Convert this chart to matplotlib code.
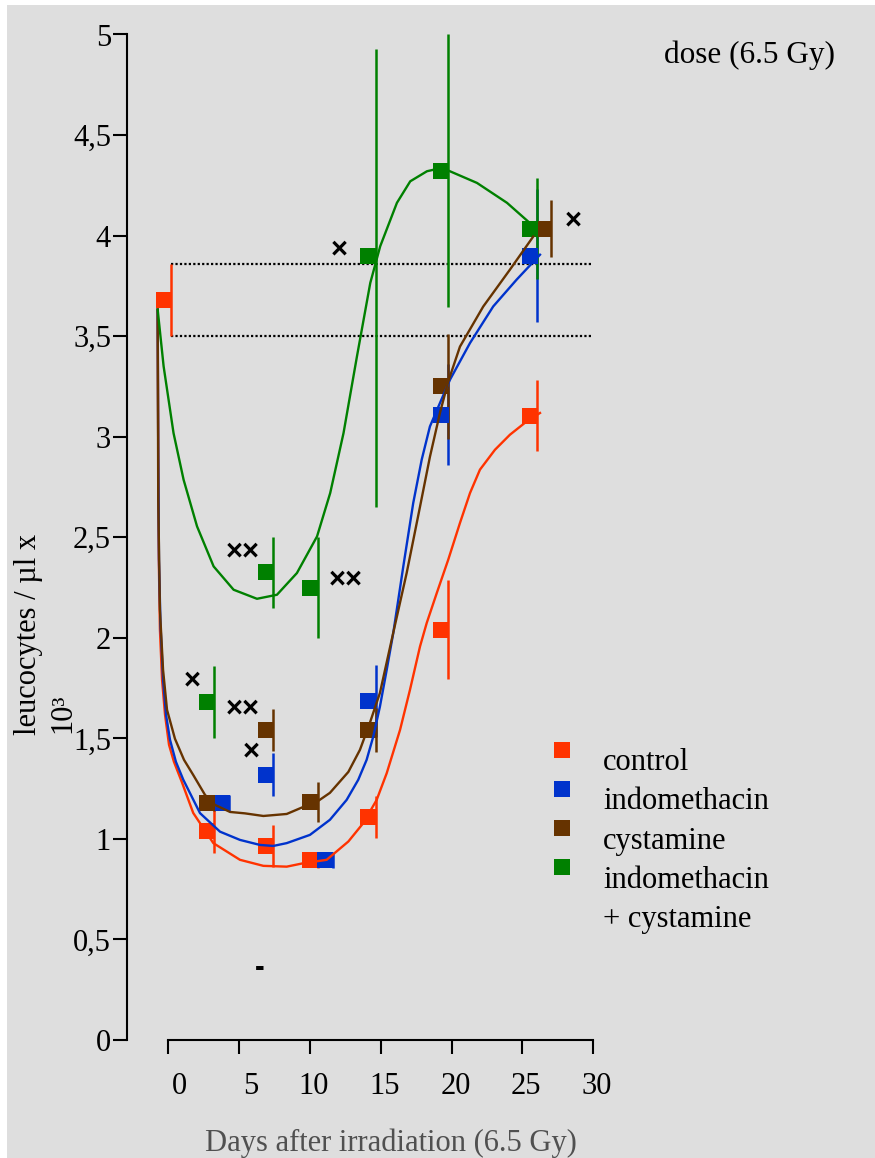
import matplotlib
matplotlib.use('Agg')
import matplotlib.pyplot as plt
from matplotlib import rcParams
from matplotlib.lines import Line2D
from matplotlib.patches import Rectangle
from matplotlib.transforms import ScaledTranslation


# measured points (days after irradiation, leucocytes / ul x 10^3)
control_x = [0.2, 3.25, 7.4, 10.55, 14.65, 19.75, 26.05]
control_y = [3.68, 1.04, 0.965, 0.895, 1.11, 2.04, 3.105]
control_err = [0.18, 0.11, 0.105, 0.04, 0.105, 0.245, 0.175]

indo_x = [4.3, 7.4, 11.6, 14.65, 19.75, 26.05]
indo_y = [1.18, 1.32, 0.895, 1.685, 3.11, 3.90]
indo_err = [0.04, 0.105, 0.04, 0.18, 0.25, 0.33]

cyst_x = [3.25, 7.4, 10.55, 14.65, 19.75, 27.05]
cyst_y = [1.18, 1.54, 1.185, 1.54, 3.25, 4.035]
cyst_err = [0.04, 0.105, 0.10, 0.11, 0.26, 0.14]

combo_x = [3.25, 7.4, 10.55, 14.65, 19.75, 26.05]
combo_y = [1.68, 2.325, 2.25, 3.90, 4.32, 4.035]
combo_err_lo = [0.18, 0.175, 0.25, 1.25, 0.675, 0.25]
combo_err_hi = [0.18, 0.175, 0.25, 1.03, 0.68, 0.25]

# fitted curves
control_fit_x = [-0.75, -0.71, -0.67, -0.59, -0.44, -0.23, 0.05, 0.40, 0.95, 1.76,
                 3.18, 5.06, 6.71, 8.36, 9.53, 11.18, 12.71, 13.76, 14.71, 15.42,
                 16.36, 17.06, 17.77, 18.24, 18.95, 19.76, 20.59, 21.30, 22.00,
                 23.06, 24.12, 25.30, 26.24]
control_fit_y = [3.632, 2.935, 2.388, 2.040, 1.791, 1.617, 1.468, 1.383, 1.284, 1.129,
                 0.979, 0.896, 0.866, 0.862, 0.879, 0.896, 0.987, 1.078, 1.194, 1.327,
                 1.542, 1.741, 1.957, 2.073, 2.222, 2.388, 2.571, 2.720, 2.836,
                 2.935, 3.010, 3.076, 3.118]

indo_fit_x = [-0.75, -0.71, -0.66, -0.55, -0.37, -0.16, 0.12, 0.54, 1.06, 2.24,
              3.65, 5.06, 6.47, 7.41, 8.36, 10.0, 11.41, 12.59, 13.41, 14.00,
              14.47, 14.94, 15.42, 15.88, 16.59, 17.29, 17.89, 18.47, 19.18,
              19.89, 21.30, 22.94, 24.59, 26.24]
indo_fit_y = [3.632, 2.935, 2.388, 2.065, 1.791, 1.617, 1.493, 1.383, 1.294, 1.128,
              1.036, 0.995, 0.970, 0.965, 0.979, 1.020, 1.095, 1.194, 1.294, 1.393,
              1.509, 1.658, 1.841, 2.023, 2.355, 2.670, 2.886, 3.051, 3.168,
              3.284, 3.466, 3.648, 3.781, 3.905]

cyst_fit_x = [-0.75, -0.71, -0.59, -0.37, -0.09, 0.47, 1.11, 1.76, 2.59, 3.30,
              4.36, 5.41, 6.71, 8.36, 9.53, 10.48, 11.41, 12.71, 13.53, 14.23,
              14.94, 15.88, 16.83, 17.77, 18.47, 19.18, 19.76, 20.59, 22.23,
              24.12, 25.76]
cyst_fit_y = [3.632, 2.687, 2.139, 1.841, 1.642, 1.498, 1.393, 1.318, 1.219, 1.169,
              1.134, 1.127, 1.114, 1.124, 1.159, 1.184, 1.229, 1.333, 1.443, 1.577,
              1.726, 2.025, 2.323, 2.652, 2.900, 3.119, 3.274, 3.448, 3.647,
              3.831, 3.995]

combo_fit_x = [-0.75, -0.33, 0.37, 1.08, 2.03, 3.20, 4.61, 6.26, 7.67, 9.08,
               10.50, 11.43, 12.37, 13.32, 14.26, 14.96, 16.14, 17.08, 18.26,
               19.32, 21.79, 23.91, 25.79]
combo_fit_y = [3.632, 3.35, 3.018, 2.786, 2.554, 2.355, 2.239, 2.194, 2.214, 2.322,
               2.504, 2.720, 3.018, 3.400, 3.765, 3.947, 4.163, 4.270, 4.320,
               4.337, 4.262, 4.163, 4.046]

# significance marks
sig_text = ['×', '×', '××', '××', '×', '××', '×', '-']
sig_x = [12.05, 28.56, 5.27, 12.54, 1.67, 5.27, 5.84, 6.47]
sig_y = [3.93, 4.075, 2.428, 2.289, 1.786, 1.647, 1.433, 0.36]

x_ticks = [0, 5, 10, 15, 20, 25, 30]
y_ticks = [0, 0.5, 1, 1.5, 2, 2.5, 3, 3.5, 4, 4.5, 5]
y_tick_labels = ['0', '0,5', '1', '1,5', '2', '2,5', '3', '3,5', '4', '4,5', '5']

legend_labels = ['control', 'indomethacin', 'cystamine', 'indomethacin\n+ cystamine']


def get_color_dict():
    COLOR_DICT = {
        'control'     : '#FF3300',
        'indo'        : '#0033CC',
        'cyst'        : '#663300',
        'combo'       : '#008000',
        'background'  : '#DEDEDE',
        'xlabel'      : '#505050',
    }
    return COLOR_DICT


def setup():
    rcParams['font.family'] = 'serif'
    rcParams['font.serif'] = ['Liberation Serif', 'DejaVu Serif']
    rcParams['axes.linewidth'] = 1.5
    rcParams['xtick.labelsize'] = 22
    rcParams['ytick.labelsize'] = 22
    rcParams['xtick.major.size'] = 10
    rcParams['ytick.major.size'] = 10
    rcParams['xtick.major.width'] = 1.5
    rcParams['ytick.major.width'] = 1.5
    rcParams['xtick.major.pad'] = 13
    rcParams['ytick.major.pad'] = 1.5


def px_x(px):
    return px / 875.0


def px_y(py):
    return 1.0 - py / 1158.0


def main():
    setup()
    c = get_color_dict()

    fig = plt.figure(figsize=(8.75, 11.58), dpi=100)
    fig.patch.set_facecolor('white')
    fig.add_artist(Rectangle((px_x(7), 0), 1 - px_x(7), px_y(5), transform=fig.transFigure,
                             facecolor=c['background'], edgecolor='none', zorder=-10))

    ax = fig.add_axes([px_x(127), px_y(1040), px_x(860) - px_x(127), px_y(34.5) - px_y(1040)])
    ax.set_facecolor('none')
    ax.set_xlim(-2.915, 48.83)
    ax.set_ylim(0, 5)

    for side in ['top', 'right']:
        ax.spines[side].set_visible(False)
    ax.spines['left'].set_bounds(0, 5)
    ax.spines['bottom'].set_bounds(0, 30)

    ax.set_xticks(x_ticks)
    ax.set_xticklabels([str(t) for t in x_ticks])
    ax.set_yticks(y_ticks)
    ax.set_yticklabels(y_tick_labels)
    shift = ScaledTranslation(0.19, 0, fig.dpi_scale_trans)
    for lbl in ax.get_xticklabels():
        lbl.set_horizontalalignment('right')
        lbl.set_transform(lbl.get_transform() + shift)

    # normal range from control day 0
    ax.hlines([control_y[0] + control_err[0], control_y[0] - control_err[0]],
              control_x[0], 30, colors='black', linestyles=(0, (1, 1)), lw=1.6, zorder=1)

    marker_shift = ax.transData + ScaledTranslation(-0.075, 0, fig.dpi_scale_trans)
    series = [
        (control_x, control_y, [control_err, control_err], control_fit_x, control_fit_y, c['control']),
        (indo_x, indo_y, [indo_err, indo_err], indo_fit_x, indo_fit_y, c['indo']),
        (cyst_x, cyst_y, [cyst_err, cyst_err], cyst_fit_x, cyst_fit_y, c['cyst']),
        (combo_x, combo_y, [combo_err_lo, combo_err_hi], combo_fit_x, combo_fit_y, c['combo']),
    ]
    for xs, ys, err, fx, fy, col in series:
        ax.errorbar(xs, ys, yerr=err, fmt='none', ecolor=col, elinewidth=1.8,
                    capsize=0, zorder=2, clip_on=False)
        ax.plot(xs, ys, 's', color=col, markersize=11.5, markeredgewidth=0,
                transform=marker_shift, zorder=3, clip_on=False)
        ax.plot(fx, fy, '-', color=col, lw=1.7, zorder=4, clip_on=False)

    for s, x, y in zip(sig_text, sig_x, sig_y):
        ax.text(x, y, s, ha='center', va='center', fontsize=21, fontweight='bold',
                family='Liberation Sans', color='black')

    # legend
    row = 0
    for label, col in zip(legend_labels, [c['control'], c['indo'], c['cyst'], c['combo']]):
        fig.add_artist(Line2D([px_x(561.5)], [px_y(749.5 + row * 39.3)], marker='s',
                              color=col, markersize=11.5, markeredgewidth=0,
                              transform=fig.transFigure))
        for line in label.split('\n'):
            fig.text(px_x(603), px_y(770 + row * 39.3), line, fontsize=22,
                     ha='left', va='baseline')
            row += 1

    fig.text(px_x(664), px_y(63), 'dose (6.5 Gy)', fontsize=22.5, ha='left', va='baseline')
    fig.text(px_x(391), px_y(1151), 'Days after irradiation (6.5 Gy)', fontsize=22,
             ha='center', va='baseline', color=c['xlabel'])
    fig.text(px_x(29), px_y(735), 'leucocytes / µl x', fontsize=22, rotation=90,
             ha='center', va='bottom')
    fig.text(px_x(63), px_y(733), '10³', fontsize=22, rotation=90,
             ha='center', va='bottom')

    fig.savefig('out.png', dpi=100, facecolor=fig.get_facecolor())
    plt.close(fig)


if __name__ == '__main__':
    main()
